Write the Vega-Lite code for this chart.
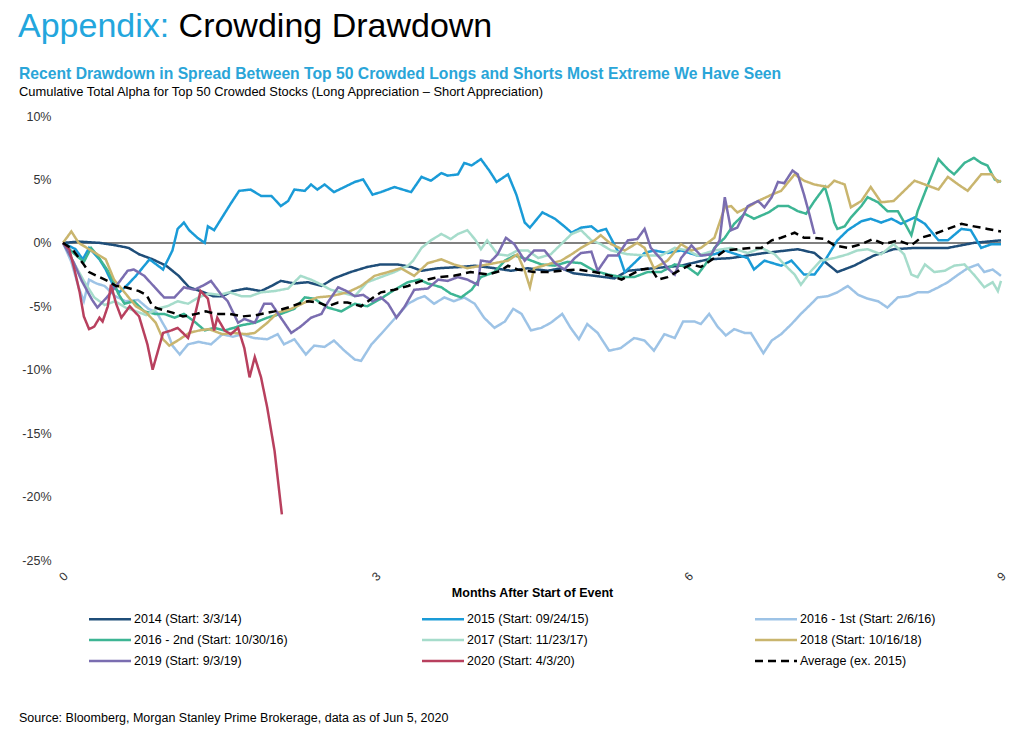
{
  "$schema": "https://vega.github.io/schema/vega-lite/v6.json",
  "description": "Crowding drawdown: cumulative alpha of top 50 crowded longs minus shorts",
  "background": "white",
  "padding": {"left": 18, "top": 10, "right": 10, "bottom": 4},
  "config": {
    "view": {"stroke": null},
    "font": "Liberation Sans",
    "concat": {"spacing": 0},
    "title": {"font": "Liberation Sans", "subtitleFont": "Liberation Sans"}
  },
  "title": {
    "text": "Appendix:",
    "subtitle": "\u200b\u00a0\u00a0\u00a0\u00a0\u00a0\u00a0\u00a0\u00a0\u00a0\u00a0\u00a0\u00a0\u00a0\u00a0\u00a0\u00a0\u00a0Crowding Drawdown",
    "anchor": "start",
    "frame": "group",
    "dx": -45,
    "color": "#23a6dd",
    "fontSize": 34,
    "fontWeight": "normal",
    "lineHeight": 34,
    "subtitleColor": "#000000",
    "subtitleFontSize": 34,
    "subtitleFontWeight": "normal",
    "subtitlePadding": -34,
    "offset": 22
  },
  "vconcat": [
    {
      "title": {
        "text": "Source: Bloomberg, Morgan Stanley Prime Brokerage, data as of Jun 5, 2020",
        "orient": "bottom",
        "anchor": "start",
        "frame": "group",
        "dx": -44,
        "fontSize": 12.5,
        "fontWeight": "normal",
        "color": "#000000",
        "offset": 113
      },
      "vconcat": [
        {
          "title": {
            "text": "Recent Drawdown in Spread Between Top 50 Crowded Longs and Shorts Most Extreme We Have Seen",
            "subtitle": "Cumulative Total Alpha for Top 50 Crowded Stocks (Long Appreciation – Short Appreciation)",
            "anchor": "start",
            "frame": "group",
            "dx": -44,
            "color": "#2aa5d8",
            "fontSize": 15.7,
            "fontWeight": "bold",
            "subtitleColor": "#000000",
            "subtitleFontSize": 12.9,
            "subtitlePadding": 3,
            "offset": 10
          },
          "width": 938,
          "height": 444,
          "data": {
            "values": [
              {"k":"2014","m":0,"v":0},{"k":"2014","m":0.15,"v":0.1},{"k":"2014","m":0.35,"v":0},{"k":"2014","m":0.51,"v":-0.2},{"k":"2014","m":0.63,"v":-0.4},{"k":"2014","m":0.73,"v":-0.9},{"k":"2014","m":0.86,"v":-1.3},{"k":"2014","m":0.99,"v":-1.8},{"k":"2014","m":1.11,"v":-2.6},{"k":"2014","m":1.21,"v":-3.5},{"k":"2014","m":1.35,"v":-3.9},{"k":"2014","m":1.44,"v":-4.2},{"k":"2014","m":1.53,"v":-4.2},{"k":"2014","m":1.63,"v":-3.8},{"k":"2014","m":1.76,"v":-3.6},{"k":"2014","m":1.9,"v":-3.8},{"k":"2014","m":2.0,"v":-3.4},{"k":"2014","m":2.09,"v":-3.0},{"k":"2014","m":2.22,"v":-3.2},{"k":"2014","m":2.35,"v":-3.1},{"k":"2014","m":2.48,"v":-3.4},{"k":"2014","m":2.6,"v":-2.8},{"k":"2014","m":2.76,"v":-2.3},{"k":"2014","m":2.92,"v":-1.9},{"k":"2014","m":3.05,"v":-1.7},{"k":"2014","m":3.21,"v":-1.7},{"k":"2014","m":3.34,"v":-1.9},{"k":"2014","m":3.44,"v":-2.2},{"k":"2014","m":3.6,"v":-2.0},{"k":"2014","m":3.82,"v":-1.9},{"k":"2014","m":3.95,"v":-1.8},{"k":"2014","m":4.14,"v":-2.0},{"k":"2014","m":4.3,"v":-2.2},{"k":"2014","m":4.46,"v":-2.0},{"k":"2014","m":4.65,"v":-2.2},{"k":"2014","m":4.78,"v":-2.0},{"k":"2014","m":4.9,"v":-2.4},{"k":"2014","m":5.1,"v":-2.6},{"k":"2014","m":5.29,"v":-2.8},{"k":"2014","m":5.42,"v":-2.2},{"k":"2014","m":5.67,"v":-2.0},{"k":"2014","m":5.93,"v":-1.8},{"k":"2014","m":6.19,"v":-1.3},{"k":"2014","m":6.41,"v":-1.2},{"k":"2014","m":6.73,"v":-0.8},{"k":"2014","m":7.05,"v":-0.5},{"k":"2014","m":7.21,"v":-0.8},{"k":"2014","m":7.34,"v":-1.7},{"k":"2014","m":7.43,"v":-2.3},{"k":"2014","m":7.59,"v":-1.8},{"k":"2014","m":7.78,"v":-1.0},{"k":"2014","m":7.97,"v":-0.5},{"k":"2014","m":8.17,"v":-0.4},{"k":"2014","m":8.49,"v":-0.4},{"k":"2014","m":8.74,"v":0},{"k":"2014","m":9.0,"v":0.2},

              {"k":"2015","m":0,"v":0},{"k":"2015","m":0.12,"v":-0.5},{"k":"2015","m":0.19,"v":-1.3},{"k":"2015","m":0.25,"v":-0.4},{"k":"2015","m":0.35,"v":-1.3},{"k":"2015","m":0.41,"v":-2.1},{"k":"2015","m":0.49,"v":-3.5},{"k":"2015","m":0.54,"v":-3.9},{"k":"2015","m":0.62,"v":-3.3},{"k":"2015","m":0.7,"v":-2.6},{"k":"2015","m":0.83,"v":-1.3},{"k":"2015","m":0.96,"v":-2.1},{"k":"2015","m":1.05,"v":-0.6},{"k":"2015","m":1.1,"v":1.1},{"k":"2015","m":1.16,"v":1.6},{"k":"2015","m":1.21,"v":1.0},{"k":"2015","m":1.29,"v":0.4},{"k":"2015","m":1.36,"v":0},{"k":"2015","m":1.39,"v":1.3},{"k":"2015","m":1.45,"v":1.0},{"k":"2015","m":1.61,"v":3.1},{"k":"2015","m":1.69,"v":4.1},{"k":"2015","m":1.8,"v":4.2},{"k":"2015","m":1.9,"v":3.7},{"k":"2015","m":2.0,"v":3.7},{"k":"2015","m":2.09,"v":2.9},{"k":"2015","m":2.16,"v":3.3},{"k":"2015","m":2.22,"v":4.2},{"k":"2015","m":2.32,"v":4.1},{"k":"2015","m":2.38,"v":4.6},{"k":"2015","m":2.44,"v":4.2},{"k":"2015","m":2.51,"v":4.6},{"k":"2015","m":2.6,"v":4.0},{"k":"2015","m":2.7,"v":4.4},{"k":"2015","m":2.8,"v":4.8},{"k":"2015","m":2.88,"v":5.0},{"k":"2015","m":2.97,"v":3.8},{"k":"2015","m":3.05,"v":4.0},{"k":"2015","m":3.18,"v":4.4},{"k":"2015","m":3.34,"v":4.0},{"k":"2015","m":3.44,"v":5.2},{"k":"2015","m":3.53,"v":4.9},{"k":"2015","m":3.63,"v":5.5},{"k":"2015","m":3.69,"v":5.3},{"k":"2015","m":3.79,"v":5.4},{"k":"2015","m":3.85,"v":6.3},{"k":"2015","m":3.92,"v":6.1},{"k":"2015","m":4.01,"v":6.6},{"k":"2015","m":4.09,"v":5.7},{"k":"2015","m":4.16,"v":4.8},{"k":"2015","m":4.27,"v":5.4},{"k":"2015","m":4.35,"v":3.8},{"k":"2015","m":4.43,"v":1.6},{"k":"2015","m":4.48,"v":1.2},{"k":"2015","m":4.6,"v":2.4},{"k":"2015","m":4.72,"v":1.9},{"k":"2015","m":4.81,"v":1.3},{"k":"2015","m":4.88,"v":0.8},{"k":"2015","m":4.97,"v":1.2},{"k":"2015","m":5.07,"v":1.3},{"k":"2015","m":5.13,"v":0.9},{"k":"2015","m":5.21,"v":1.1},{"k":"2015","m":5.32,"v":-0.6},{"k":"2015","m":5.39,"v":-2.3},{"k":"2015","m":5.48,"v":-1.6},{"k":"2015","m":5.58,"v":-0.8},{"k":"2015","m":5.67,"v":-0.6},{"k":"2015","m":5.8,"v":-0.8},{"k":"2015","m":5.93,"v":-0.6},{"k":"2015","m":6.09,"v":-1.0},{"k":"2015","m":6.25,"v":-0.9},{"k":"2015","m":6.35,"v":-0.6},{"k":"2015","m":6.57,"v":-1.2},{"k":"2015","m":6.63,"v":-2.1},{"k":"2015","m":6.73,"v":-1.4},{"k":"2015","m":6.89,"v":-1.8},{"k":"2015","m":6.99,"v":-1.4},{"k":"2015","m":7.11,"v":-2.5},{"k":"2015","m":7.21,"v":-2.5},{"k":"2015","m":7.31,"v":-1.4},{"k":"2015","m":7.43,"v":0.2},{"k":"2015","m":7.53,"v":1.0},{"k":"2015","m":7.66,"v":1.7},{"k":"2015","m":7.75,"v":1.9},{"k":"2015","m":7.85,"v":1.6},{"k":"2015","m":7.95,"v":1.9},{"k":"2015","m":8.04,"v":1.5},{"k":"2015","m":8.17,"v":2.0},{"k":"2015","m":8.27,"v":1.5},{"k":"2015","m":8.4,"v":0.2},{"k":"2015","m":8.49,"v":0.2},{"k":"2015","m":8.62,"v":1.1},{"k":"2015","m":8.71,"v":1.0},{"k":"2015","m":8.81,"v":-0.4},{"k":"2015","m":8.91,"v":-0.1},{"k":"2015","m":9.0,"v":-0.1},

              {"k":"2016a","m":0,"v":0},{"k":"2016a","m":0.08,"v":-1.5},{"k":"2016a","m":0.15,"v":-3.5},{"k":"2016a","m":0.2,"v":-4.6},{"k":"2016a","m":0.25,"v":-2.9},{"k":"2016a","m":0.32,"v":-3.2},{"k":"2016a","m":0.4,"v":-3.4},{"k":"2016a","m":0.5,"v":-4.2},{"k":"2016a","m":0.6,"v":-4.6},{"k":"2016a","m":0.72,"v":-4.5},{"k":"2016a","m":0.82,"v":-5.2},{"k":"2016a","m":0.9,"v":-5.5},{"k":"2016a","m":0.99,"v":-6.8},{"k":"2016a","m":1.05,"v":-8.1},{"k":"2016a","m":1.12,"v":-8.8},{"k":"2016a","m":1.2,"v":-8.0},{"k":"2016a","m":1.3,"v":-7.8},{"k":"2016a","m":1.42,"v":-8.0},{"k":"2016a","m":1.53,"v":-7.2},{"k":"2016a","m":1.63,"v":-7.4},{"k":"2016a","m":1.72,"v":-7.2},{"k":"2016a","m":1.83,"v":-7.5},{"k":"2016a","m":1.96,"v":-7.6},{"k":"2016a","m":2.06,"v":-7.2},{"k":"2016a","m":2.12,"v":-8.0},{"k":"2016a","m":2.22,"v":-7.6},{"k":"2016a","m":2.33,"v":-8.8},{"k":"2016a","m":2.41,"v":-8.1},{"k":"2016a","m":2.51,"v":-8.2},{"k":"2016a","m":2.6,"v":-7.7},{"k":"2016a","m":2.7,"v":-8.5},{"k":"2016a","m":2.8,"v":-9.2},{"k":"2016a","m":2.86,"v":-9.3},{"k":"2016a","m":2.96,"v":-8.0},{"k":"2016a","m":3.05,"v":-7.2},{"k":"2016a","m":3.18,"v":-6.0},{"k":"2016a","m":3.31,"v":-4.8},{"k":"2016a","m":3.4,"v":-4.4},{"k":"2016a","m":3.47,"v":-4.2},{"k":"2016a","m":3.56,"v":-4.8},{"k":"2016a","m":3.66,"v":-4.3},{"k":"2016a","m":3.75,"v":-4.6},{"k":"2016a","m":3.85,"v":-4.3},{"k":"2016a","m":3.95,"v":-4.8},{"k":"2016a","m":4.04,"v":-5.9},{"k":"2016a","m":4.14,"v":-6.7},{"k":"2016a","m":4.24,"v":-6.2},{"k":"2016a","m":4.32,"v":-5.2},{"k":"2016a","m":4.4,"v":-5.6},{"k":"2016a","m":4.49,"v":-6.9},{"k":"2016a","m":4.59,"v":-6.7},{"k":"2016a","m":4.68,"v":-6.3},{"k":"2016a","m":4.79,"v":-5.6},{"k":"2016a","m":4.87,"v":-6.7},{"k":"2016a","m":4.95,"v":-7.6},{"k":"2016a","m":5.03,"v":-6.4},{"k":"2016a","m":5.13,"v":-7.1},{"k":"2016a","m":5.24,"v":-8.5},{"k":"2016a","m":5.35,"v":-8.3},{"k":"2016a","m":5.48,"v":-7.5},{"k":"2016a","m":5.58,"v":-7.7},{"k":"2016a","m":5.67,"v":-8.5},{"k":"2016a","m":5.77,"v":-7.2},{"k":"2016a","m":5.87,"v":-7.5},{"k":"2016a","m":5.95,"v":-6.2},{"k":"2016a","m":6.06,"v":-6.2},{"k":"2016a","m":6.12,"v":-6.4},{"k":"2016a","m":6.2,"v":-5.6},{"k":"2016a","m":6.28,"v":-6.6},{"k":"2016a","m":6.36,"v":-7.3},{"k":"2016a","m":6.44,"v":-6.8},{"k":"2016a","m":6.54,"v":-7.1},{"k":"2016a","m":6.6,"v":-7.1},{"k":"2016a","m":6.72,"v":-8.7},{"k":"2016a","m":6.8,"v":-7.7},{"k":"2016a","m":6.89,"v":-7.2},{"k":"2016a","m":6.99,"v":-6.4},{"k":"2016a","m":7.08,"v":-5.6},{"k":"2016a","m":7.18,"v":-4.8},{"k":"2016a","m":7.24,"v":-4.3},{"k":"2016a","m":7.34,"v":-4.2},{"k":"2016a","m":7.43,"v":-3.9},{"k":"2016a","m":7.53,"v":-3.4},{"k":"2016a","m":7.63,"v":-4.1},{"k":"2016a","m":7.72,"v":-4.4},{"k":"2016a","m":7.82,"v":-4.6},{"k":"2016a","m":7.91,"v":-5.1},{"k":"2016a","m":8.01,"v":-4.3},{"k":"2016a","m":8.11,"v":-4.2},{"k":"2016a","m":8.2,"v":-3.9},{"k":"2016a","m":8.3,"v":-3.9},{"k":"2016a","m":8.4,"v":-3.5},{"k":"2016a","m":8.49,"v":-3.1},{"k":"2016a","m":8.59,"v":-2.5},{"k":"2016a","m":8.68,"v":-2.0},{"k":"2016a","m":8.78,"v":-1.7},{"k":"2016a","m":8.84,"v":-2.3},{"k":"2016a","m":8.92,"v":-2.1},{"k":"2016a","m":9.0,"v":-2.6},

              {"k":"2016b","m":0,"v":0},{"k":"2016b","m":0.1,"v":-0.8},{"k":"2016b","m":0.2,"v":-1.5},{"k":"2016b","m":0.27,"v":-0.4},{"k":"2016b","m":0.33,"v":-1.0},{"k":"2016b","m":0.43,"v":-2.2},{"k":"2016b","m":0.48,"v":-3.0},{"k":"2016b","m":0.53,"v":-4.0},{"k":"2016b","m":0.59,"v":-4.8},{"k":"2016b","m":0.68,"v":-4.6},{"k":"2016b","m":0.78,"v":-5.4},{"k":"2016b","m":0.88,"v":-5.6},{"k":"2016b","m":0.97,"v":-5.6},{"k":"2016b","m":1.07,"v":-5.9},{"k":"2016b","m":1.16,"v":-5.6},{"k":"2016b","m":1.26,"v":-6.2},{"k":"2016b","m":1.36,"v":-6.9},{"k":"2016b","m":1.45,"v":-6.7},{"k":"2016b","m":1.55,"v":-6.9},{"k":"2016b","m":1.64,"v":-6.7},{"k":"2016b","m":1.71,"v":-6.5},{"k":"2016b","m":1.84,"v":-6.3},{"k":"2016b","m":1.96,"v":-5.9},{"k":"2016b","m":2.09,"v":-5.6},{"k":"2016b","m":2.22,"v":-5.2},{"k":"2016b","m":2.32,"v":-4.3},{"k":"2016b","m":2.41,"v":-4.4},{"k":"2016b","m":2.54,"v":-5.1},{"k":"2016b","m":2.67,"v":-5.4},{"k":"2016b","m":2.8,"v":-4.8},{"k":"2016b","m":2.92,"v":-5.0},{"k":"2016b","m":3.05,"v":-4.4},{"k":"2016b","m":3.18,"v":-3.7},{"k":"2016b","m":3.31,"v":-3.1},{"k":"2016b","m":3.42,"v":-2.9},{"k":"2016b","m":3.5,"v":-3.2},{"k":"2016b","m":3.63,"v":-3.5},{"k":"2016b","m":3.72,"v":-4.0},{"k":"2016b","m":3.82,"v":-4.3},{"k":"2016b","m":3.92,"v":-3.7},{"k":"2016b","m":4.01,"v":-2.7},{"k":"2016b","m":4.14,"v":-2.3},{"k":"2016b","m":4.24,"v":-1.4},{"k":"2016b","m":4.33,"v":-1.0},{"k":"2016b","m":4.46,"v":-1.3},{"k":"2016b","m":4.59,"v":-1.7},{"k":"2016b","m":4.72,"v":-1.8},{"k":"2016b","m":4.84,"v":-1.5},{"k":"2016b","m":4.97,"v":-1.6},{"k":"2016b","m":5.1,"v":-2.2},{"k":"2016b","m":5.23,"v":-2.5},{"k":"2016b","m":5.36,"v":-2.7},{"k":"2016b","m":5.48,"v":-2.7},{"k":"2016b","m":5.61,"v":-2.3},{"k":"2016b","m":5.74,"v":-2.3},{"k":"2016b","m":5.87,"v":-1.7},{"k":"2016b","m":5.99,"v":-1.9},{"k":"2016b","m":6.09,"v":-2.5},{"k":"2016b","m":6.19,"v":-1.4},{"k":"2016b","m":6.25,"v":-0.4},{"k":"2016b","m":6.35,"v":0.4},{"k":"2016b","m":6.44,"v":1.5},{"k":"2016b","m":6.54,"v":2.3},{"k":"2016b","m":6.63,"v":1.9},{"k":"2016b","m":6.77,"v":2.4},{"k":"2016b","m":6.86,"v":2.9},{"k":"2016b","m":6.96,"v":2.9},{"k":"2016b","m":7.05,"v":2.5},{"k":"2016b","m":7.13,"v":2.3},{"k":"2016b","m":7.21,"v":3.3},{"k":"2016b","m":7.31,"v":4.4},{"k":"2016b","m":7.36,"v":3.0},{"k":"2016b","m":7.4,"v":1.6},{"k":"2016b","m":7.43,"v":1.1},{"k":"2016b","m":7.5,"v":1.3},{"k":"2016b","m":7.56,"v":2.0},{"k":"2016b","m":7.66,"v":2.9},{"k":"2016b","m":7.72,"v":3.6},{"k":"2016b","m":7.82,"v":3.2},{"k":"2016b","m":7.91,"v":2.5},{"k":"2016b","m":8.01,"v":2.5},{"k":"2016b","m":8.08,"v":1.5},{"k":"2016b","m":8.14,"v":0.6},{"k":"2016b","m":8.2,"v":2.5},{"k":"2016b","m":8.3,"v":4.6},{"k":"2016b","m":8.4,"v":6.6},{"k":"2016b","m":8.49,"v":5.8},{"k":"2016b","m":8.55,"v":5.4},{"k":"2016b","m":8.65,"v":6.3},{"k":"2016b","m":8.74,"v":6.7},{"k":"2016b","m":8.81,"v":6.3},{"k":"2016b","m":8.87,"v":6.1},{"k":"2016b","m":8.94,"v":5.0},{"k":"2016b","m":9.0,"v":4.8},

              {"k":"2017","m":0,"v":0},{"k":"2017","m":0.1,"v":-1.5},{"k":"2017","m":0.2,"v":-3.0},{"k":"2017","m":0.3,"v":-4.3},{"k":"2017","m":0.4,"v":-4.9},{"k":"2017","m":0.5,"v":-4.6},{"k":"2017","m":0.6,"v":-5.1},{"k":"2017","m":0.7,"v":-5.4},{"k":"2017","m":0.8,"v":-5.7},{"k":"2017","m":0.9,"v":-5.2},{"k":"2017","m":1.0,"v":-5.0},{"k":"2017","m":1.1,"v":-4.6},{"k":"2017","m":1.2,"v":-4.8},{"k":"2017","m":1.3,"v":-4.3},{"k":"2017","m":1.4,"v":-4.0},{"k":"2017","m":1.5,"v":-4.1},{"k":"2017","m":1.6,"v":-3.9},{"k":"2017","m":1.71,"v":-4.2},{"k":"2017","m":1.8,"v":-4.2},{"k":"2017","m":1.9,"v":-3.9},{"k":"2017","m":2.03,"v":-3.8},{"k":"2017","m":2.16,"v":-3.6},{"k":"2017","m":2.28,"v":-2.6},{"k":"2017","m":2.38,"v":-2.9},{"k":"2017","m":2.48,"v":-3.3},{"k":"2017","m":2.57,"v":-3.7},{"k":"2017","m":2.67,"v":-3.9},{"k":"2017","m":2.8,"v":-4.2},{"k":"2017","m":2.92,"v":-3.1},{"k":"2017","m":3.05,"v":-2.7},{"k":"2017","m":3.18,"v":-2.3},{"k":"2017","m":3.31,"v":-1.8},{"k":"2017","m":3.36,"v":-1.4},{"k":"2017","m":3.44,"v":-0.4},{"k":"2017","m":3.53,"v":0.2},{"k":"2017","m":3.63,"v":0.7},{"k":"2017","m":3.72,"v":0.3},{"k":"2017","m":3.79,"v":0.7},{"k":"2017","m":3.88,"v":1.0},{"k":"2017","m":3.96,"v":0.2},{"k":"2017","m":4.01,"v":-0.5},{"k":"2017","m":4.07,"v":0.2},{"k":"2017","m":4.17,"v":-0.9},{"k":"2017","m":4.27,"v":-1.0},{"k":"2017","m":4.36,"v":-0.6},{"k":"2017","m":4.46,"v":-0.6},{"k":"2017","m":4.56,"v":-1.2},{"k":"2017","m":4.68,"v":-0.9},{"k":"2017","m":4.78,"v":-0.1},{"k":"2017","m":4.88,"v":0.7},{"k":"2017","m":4.97,"v":1.0},{"k":"2017","m":5.07,"v":0.2},{"k":"2017","m":5.16,"v":-0.1},{"k":"2017","m":5.26,"v":-0.6},{"k":"2017","m":5.42,"v":-0.9},{"k":"2017","m":5.61,"v":-1.0},{"k":"2017","m":5.74,"v":-1.0},{"k":"2017","m":5.87,"v":-0.4},{"k":"2017","m":5.99,"v":-0.6},{"k":"2017","m":6.09,"v":-1.0},{"k":"2017","m":6.25,"v":-0.6},{"k":"2017","m":6.41,"v":-0.4},{"k":"2017","m":6.57,"v":-0.8},{"k":"2017","m":6.7,"v":-0.4},{"k":"2017","m":6.83,"v":-0.9},{"k":"2017","m":6.92,"v":-1.7},{"k":"2017","m":7.02,"v":-2.5},{"k":"2017","m":7.08,"v":-3.3},{"k":"2017","m":7.18,"v":-2.2},{"k":"2017","m":7.27,"v":-1.4},{"k":"2017","m":7.4,"v":-1.2},{"k":"2017","m":7.53,"v":-0.9},{"k":"2017","m":7.62,"v":-0.6},{"k":"2017","m":7.72,"v":-0.5},{"k":"2017","m":7.85,"v":-0.9},{"k":"2017","m":7.97,"v":-0.1},{"k":"2017","m":8.07,"v":-0.9},{"k":"2017","m":8.14,"v":-2.5},{"k":"2017","m":8.2,"v":-2.7},{"k":"2017","m":8.27,"v":-1.7},{"k":"2017","m":8.36,"v":-2.3},{"k":"2017","m":8.46,"v":-2.2},{"k":"2017","m":8.55,"v":-1.8},{"k":"2017","m":8.65,"v":-1.7},{"k":"2017","m":8.75,"v":-2.6},{"k":"2017","m":8.84,"v":-3.5},{"k":"2017","m":8.92,"v":-3.1},{"k":"2017","m":8.97,"v":-3.8},{"k":"2017","m":9.0,"v":-3.0},

              {"k":"2018","m":0,"v":0},{"k":"2018","m":0.08,"v":0.9},{"k":"2018","m":0.15,"v":0},{"k":"2018","m":0.25,"v":-0.5},{"k":"2018","m":0.35,"v":-1.0},{"k":"2018","m":0.41,"v":-1.3},{"k":"2018","m":0.49,"v":-2.9},{"k":"2018","m":0.57,"v":-3.7},{"k":"2018","m":0.7,"v":-5.0},{"k":"2018","m":0.8,"v":-5.5},{"k":"2018","m":0.89,"v":-6.3},{"k":"2018","m":0.96,"v":-7.6},{"k":"2018","m":1.02,"v":-8.1},{"k":"2018","m":1.12,"v":-7.6},{"k":"2018","m":1.21,"v":-7.1},{"k":"2018","m":1.31,"v":-6.9},{"k":"2018","m":1.4,"v":-6.8},{"k":"2018","m":1.53,"v":-7.2},{"k":"2018","m":1.63,"v":-7.1},{"k":"2018","m":1.76,"v":-7.2},{"k":"2018","m":1.84,"v":-7.1},{"k":"2018","m":1.96,"v":-6.3},{"k":"2018","m":2.06,"v":-5.5},{"k":"2018","m":2.19,"v":-5.2},{"k":"2018","m":2.32,"v":-4.7},{"k":"2018","m":2.44,"v":-4.3},{"k":"2018","m":2.57,"v":-4.2},{"k":"2018","m":2.73,"v":-3.9},{"k":"2018","m":2.86,"v":-3.4},{"k":"2018","m":2.99,"v":-2.6},{"k":"2018","m":3.12,"v":-2.3},{"k":"2018","m":3.24,"v":-2.0},{"k":"2018","m":3.37,"v":-2.6},{"k":"2018","m":3.5,"v":-1.6},{"k":"2018","m":3.63,"v":-1.3},{"k":"2018","m":3.75,"v":-1.7},{"k":"2018","m":3.88,"v":-2.0},{"k":"2018","m":4.01,"v":-1.8},{"k":"2018","m":4.14,"v":-1.6},{"k":"2018","m":4.27,"v":-1.4},{"k":"2018","m":4.36,"v":-0.9},{"k":"2018","m":4.43,"v":-2.2},{"k":"2018","m":4.48,"v":-3.5},{"k":"2018","m":4.52,"v":-2.0},{"k":"2018","m":4.65,"v":-1.7},{"k":"2018","m":4.78,"v":-1.4},{"k":"2018","m":4.88,"v":-0.9},{"k":"2018","m":4.97,"v":-0.4},{"k":"2018","m":5.1,"v":0.2},{"k":"2018","m":5.16,"v":0.6},{"k":"2018","m":5.26,"v":-0.1},{"k":"2018","m":5.39,"v":-0.6},{"k":"2018","m":5.51,"v":0},{"k":"2018","m":5.58,"v":-0.4},{"k":"2018","m":5.67,"v":-2.0},{"k":"2018","m":5.8,"v":-1.4},{"k":"2018","m":5.93,"v":-0.1},{"k":"2018","m":6.03,"v":-0.6},{"k":"2018","m":6.12,"v":-0.4},{"k":"2018","m":6.25,"v":0.4},{"k":"2018","m":6.35,"v":2.8},{"k":"2018","m":6.41,"v":2.9},{"k":"2018","m":6.47,"v":2.4},{"k":"2018","m":6.57,"v":2.8},{"k":"2018","m":6.67,"v":3.3},{"k":"2018","m":6.8,"v":3.8},{"k":"2018","m":6.89,"v":4.1},{"k":"2018","m":7.02,"v":5.4},{"k":"2018","m":7.11,"v":4.9},{"k":"2018","m":7.21,"v":4.6},{"k":"2018","m":7.34,"v":4.4},{"k":"2018","m":7.4,"v":4.9},{"k":"2018","m":7.5,"v":4.6},{"k":"2018","m":7.56,"v":2.8},{"k":"2018","m":7.66,"v":3.3},{"k":"2018","m":7.75,"v":4.4},{"k":"2018","m":7.85,"v":3.2},{"k":"2018","m":7.97,"v":3.3},{"k":"2018","m":8.07,"v":4.1},{"k":"2018","m":8.17,"v":4.9},{"k":"2018","m":8.27,"v":4.6},{"k":"2018","m":8.4,"v":4.2},{"k":"2018","m":8.49,"v":5.2},{"k":"2018","m":8.59,"v":4.6},{"k":"2018","m":8.68,"v":4.1},{"k":"2018","m":8.81,"v":5.4},{"k":"2018","m":8.91,"v":5.4},{"k":"2018","m":8.97,"v":4.8},{"k":"2018","m":9.0,"v":4.9},

              {"k":"2019","m":0,"v":0},{"k":"2019","m":0.1,"v":-1.5},{"k":"2019","m":0.18,"v":-3.0},{"k":"2019","m":0.28,"v":-4.5},{"k":"2019","m":0.33,"v":-5.1},{"k":"2019","m":0.42,"v":-4.3},{"k":"2019","m":0.52,"v":-3.3},{"k":"2019","m":0.62,"v":-2.2},{"k":"2019","m":0.68,"v":-2.1},{"k":"2019","m":0.78,"v":-2.6},{"k":"2019","m":0.88,"v":-3.5},{"k":"2019","m":0.97,"v":-4.3},{"k":"2019","m":1.07,"v":-4.3},{"k":"2019","m":1.16,"v":-3.5},{"k":"2019","m":1.26,"v":-3.7},{"k":"2019","m":1.36,"v":-3.3},{"k":"2019","m":1.42,"v":-3.0},{"k":"2019","m":1.52,"v":-4.1},{"k":"2019","m":1.58,"v":-4.6},{"k":"2019","m":1.68,"v":-6.3},{"k":"2019","m":1.74,"v":-6.0},{"k":"2019","m":1.84,"v":-6.3},{"k":"2019","m":1.93,"v":-4.8},{"k":"2019","m":2.0,"v":-4.8},{"k":"2019","m":2.09,"v":-5.9},{"k":"2019","m":2.19,"v":-7.1},{"k":"2019","m":2.28,"v":-6.6},{"k":"2019","m":2.38,"v":-5.9},{"k":"2019","m":2.48,"v":-5.6},{"k":"2019","m":2.54,"v":-4.7},{"k":"2019","m":2.64,"v":-3.5},{"k":"2019","m":2.72,"v":-3.8},{"k":"2019","m":2.8,"v":-4.2},{"k":"2019","m":2.88,"v":-4.1},{"k":"2019","m":2.97,"v":-4.6},{"k":"2019","m":3.05,"v":-4.3},{"k":"2019","m":3.12,"v":-4.8},{"k":"2019","m":3.2,"v":-5.9},{"k":"2019","m":3.28,"v":-5.0},{"k":"2019","m":3.37,"v":-3.7},{"k":"2019","m":3.5,"v":-3.6},{"k":"2019","m":3.6,"v":-2.9},{"k":"2019","m":3.69,"v":-3.0},{"k":"2019","m":3.79,"v":-2.7},{"k":"2019","m":3.88,"v":-2.9},{"k":"2019","m":3.98,"v":-3.3},{"k":"2019","m":4.01,"v":-1.4},{"k":"2019","m":4.1,"v":-1.5},{"k":"2019","m":4.17,"v":-0.9},{"k":"2019","m":4.25,"v":0.4},{"k":"2019","m":4.33,"v":-0.1},{"k":"2019","m":4.43,"v":-1.4},{"k":"2019","m":4.52,"v":-0.6},{"k":"2019","m":4.62,"v":-0.6},{"k":"2019","m":4.72,"v":-1.6},{"k":"2019","m":4.81,"v":-2.1},{"k":"2019","m":4.91,"v":-1.2},{"k":"2019","m":4.97,"v":-0.8},{"k":"2019","m":5.07,"v":-0.7},{"k":"2019","m":5.13,"v":-2.2},{"k":"2019","m":5.23,"v":-1.0},{"k":"2019","m":5.32,"v":-1.0},{"k":"2019","m":5.42,"v":0.2},{"k":"2019","m":5.51,"v":0.3},{"k":"2019","m":5.58,"v":1.1},{"k":"2019","m":5.64,"v":-0.4},{"k":"2019","m":5.74,"v":-1.3},{"k":"2019","m":5.8,"v":-2.0},{"k":"2019","m":5.87,"v":-2.5},{"k":"2019","m":5.93,"v":-1.2},{"k":"2019","m":6.03,"v":-0.2},{"k":"2019","m":6.12,"v":-1.0},{"k":"2019","m":6.22,"v":-0.9},{"k":"2019","m":6.3,"v":0.2},{"k":"2019","m":6.35,"v":3.6},{"k":"2019","m":6.41,"v":1.0},{"k":"2019","m":6.47,"v":1.2},{"k":"2019","m":6.57,"v":2.9},{"k":"2019","m":6.67,"v":3.3},{"k":"2019","m":6.73,"v":2.8},{"k":"2019","m":6.8,"v":3.6},{"k":"2019","m":6.86,"v":4.8},{"k":"2019","m":6.92,"v":4.7},{"k":"2019","m":7.0,"v":5.7},{"k":"2019","m":7.05,"v":5.4},{"k":"2019","m":7.11,"v":3.8},{"k":"2019","m":7.16,"v":2.3},{"k":"2019","m":7.21,"v":0.7},

              {"k":"2020","m":0,"v":0},{"k":"2020","m":0.06,"v":-0.5},{"k":"2020","m":0.11,"v":-2.1},{"k":"2020","m":0.16,"v":-3.9},{"k":"2020","m":0.2,"v":-5.8},{"k":"2020","m":0.25,"v":-6.8},{"k":"2020","m":0.3,"v":-6.6},{"k":"2020","m":0.35,"v":-5.9},{"k":"2020","m":0.38,"v":-6.2},{"k":"2020","m":0.43,"v":-5.0},{"k":"2020","m":0.46,"v":-3.3},{"k":"2020","m":0.51,"v":-4.8},{"k":"2020","m":0.56,"v":-5.9},{"k":"2020","m":0.64,"v":-5.0},{"k":"2020","m":0.73,"v":-5.8},{"k":"2020","m":0.81,"v":-8.0},{"k":"2020","m":0.86,"v":-10.0},{"k":"2020","m":0.96,"v":-7.1},{"k":"2020","m":1.04,"v":-6.9},{"k":"2020","m":1.1,"v":-6.7},{"k":"2020","m":1.2,"v":-7.5},{"k":"2020","m":1.26,"v":-5.9},{"k":"2020","m":1.32,"v":-3.8},{"k":"2020","m":1.39,"v":-4.4},{"k":"2020","m":1.45,"v":-6.9},{"k":"2020","m":1.48,"v":-5.9},{"k":"2020","m":1.55,"v":-6.9},{"k":"2020","m":1.61,"v":-7.2},{"k":"2020","m":1.68,"v":-6.7},{"k":"2020","m":1.74,"v":-8.3},{"k":"2020","m":1.79,"v":-10.6},{"k":"2020","m":1.84,"v":-9.0},{"k":"2020","m":1.9,"v":-10.6},{"k":"2020","m":1.96,"v":-13.0},{"k":"2020","m":2.03,"v":-16.4},{"k":"2020","m":2.1,"v":-21.4},

              {"k":"avg","m":0,"v":0},{"k":"avg","m":0.09,"v":-0.5},{"k":"avg","m":0.19,"v":-1.6},{"k":"avg","m":0.25,"v":-2.3},{"k":"avg","m":0.35,"v":-2.7},{"k":"avg","m":0.43,"v":-3.0},{"k":"avg","m":0.51,"v":-3.4},{"k":"avg","m":0.6,"v":-3.5},{"k":"avg","m":0.73,"v":-3.8},{"k":"avg","m":0.8,"v":-4.1},{"k":"avg","m":0.86,"v":-5.0},{"k":"avg","m":0.92,"v":-5.2},{"k":"avg","m":1.05,"v":-5.5},{"k":"avg","m":1.15,"v":-5.8},{"k":"avg","m":1.28,"v":-5.6},{"k":"avg","m":1.37,"v":-5.4},{"k":"avg","m":1.47,"v":-5.6},{"k":"avg","m":1.6,"v":-5.6},{"k":"avg","m":1.72,"v":-5.8},{"k":"avg","m":1.85,"v":-5.7},{"k":"avg","m":2.03,"v":-5.4},{"k":"avg","m":2.16,"v":-5.1},{"k":"avg","m":2.26,"v":-4.8},{"k":"avg","m":2.35,"v":-4.6},{"k":"avg","m":2.45,"v":-4.7},{"k":"avg","m":2.54,"v":-5.0},{"k":"avg","m":2.64,"v":-4.7},{"k":"avg","m":2.73,"v":-4.7},{"k":"avg","m":2.86,"v":-5.0},{"k":"avg","m":2.96,"v":-4.4},{"k":"avg","m":3.05,"v":-3.9},{"k":"avg","m":3.18,"v":-3.7},{"k":"avg","m":3.31,"v":-3.4},{"k":"avg","m":3.44,"v":-3.0},{"k":"avg","m":3.6,"v":-2.7},{"k":"avg","m":3.75,"v":-2.6},{"k":"avg","m":3.91,"v":-2.3},{"k":"avg","m":4.08,"v":-2.5},{"k":"avg","m":4.2,"v":-2.2},{"k":"avg","m":4.27,"v":-1.8},{"k":"avg","m":4.36,"v":-2.1},{"k":"avg","m":4.52,"v":-2.3},{"k":"avg","m":4.65,"v":-2.3},{"k":"avg","m":4.78,"v":-2.2},{"k":"avg","m":4.94,"v":-2.1},{"k":"avg","m":5.1,"v":-2.3},{"k":"avg","m":5.26,"v":-2.6},{"k":"avg","m":5.36,"v":-2.9},{"k":"avg","m":5.45,"v":-2.5},{"k":"avg","m":5.55,"v":-2.1},{"k":"avg","m":5.64,"v":-2.0},{"k":"avg","m":5.71,"v":-2.9},{"k":"avg","m":5.8,"v":-2.7},{"k":"avg","m":5.93,"v":-2.1},{"k":"avg","m":6.03,"v":-1.7},{"k":"avg","m":6.12,"v":-1.9},{"k":"avg","m":6.25,"v":-1.2},{"k":"avg","m":6.35,"v":-0.6},{"k":"avg","m":6.48,"v":-0.5},{"k":"avg","m":6.6,"v":-0.4},{"k":"avg","m":6.7,"v":-0.4},{"k":"avg","m":6.8,"v":0.2},{"k":"avg","m":6.89,"v":0.4},{"k":"avg","m":7.02,"v":0.8},{"k":"avg","m":7.11,"v":0.4},{"k":"avg","m":7.21,"v":0.4},{"k":"avg","m":7.31,"v":0.3},{"k":"avg","m":7.4,"v":-0.2},{"k":"avg","m":7.53,"v":-0.4},{"k":"avg","m":7.66,"v":-0.1},{"k":"avg","m":7.77,"v":0.3},{"k":"avg","m":7.88,"v":-0.1},{"k":"avg","m":8.01,"v":0.2},{"k":"avg","m":8.14,"v":-0.2},{"k":"avg","m":8.23,"v":0.4},{"k":"avg","m":8.36,"v":0.7},{"k":"avg","m":8.49,"v":1.1},{"k":"avg","m":8.62,"v":1.5},{"k":"avg","m":8.74,"v":1.3},{"k":"avg","m":8.87,"v":1.1},{"k":"avg","m":9.0,"v":0.9}
            ]
          },
          "layer": [
            {
              "mark": {"type": "rule", "color": "#808080", "strokeWidth": 1},
              "encoding": {"y": {"datum": 0, "type": "quantitative"}}
            },
            {
              "mark": {"type": "line", "interpolate": "linear"},
              "encoding": {
                "x": {
                  "field": "m",
                  "type": "quantitative",
                  "scale": {"domain": [0, 9], "nice": false},
                  "axis": {
                    "title": "Months After Start of Event",
                    "titleFontSize": 12.5,
                    "titleFontWeight": "bold",
                    "titleColor": "#000000",
                    "titlePadding": 4,
                    "values": [0, 3, 6, 9],
                    "labelAngle": -45,
                    "labelAlign": "center",
                    "labelBaseline": "middle",
                    "labelFontSize": 12,
                    "labelColor": "#333333",
                    "labelPadding": 16,
                    "ticks": false,
                    "domain": false,
                    "grid": false
                  }
                },
                "y": {
                  "field": "v",
                  "type": "quantitative",
                  "scale": {"domain": [-25, 10], "nice": false, "zero": false},
                  "axis": {
                    "title": null,
                    "values": [-25, -20, -15, -10, -5, 0, 5, 10],
                    "labelExpr": "datum.value + '%'",
                    "labelFontSize": 12.5,
                    "labelColor": "#333333",
                    "labelPadding": 12,
                    "ticks": false,
                    "domain": false,
                    "grid": false
                  }
                },
                "detail": {"field": "k"},
                "color": {
                  "field": "k",
                  "type": "nominal",
                  "scale": {
                    "domain": ["2014", "2015", "2016a", "2016b", "2017", "2018", "2019", "2020", "avg"],
                    "range": ["#1f4e79", "#1a9bd7", "#9dc3e6", "#3db594", "#a6dccb", "#c9b56e", "#7a6db0", "#b8405e", "#000000"]
                  },
                  "legend": {
                    "title": null,
                    "orient": "none",
                    "direction": "horizontal",
                    "legendX": 35,
                    "legendY": 491,
                    "columns": 3,
                    "gridAlign": "all",
                    "columnPadding": 129,
                    "rowPadding": 2,
                    "symbolType": "M-2,0H2",
                    "symbolSize": 441,
                    "labelFontSize": 12.5,
                    "labelColor": "#000000",
                    "labelOffset": 12,
                    "labelLimit": 300,
                    "labelExpr": "{'2014': '2014 (Start: 3/3/14)', '2015': '2015 (Start: 09/24/15)', '2016a': '2016 - 1st (Start: 2/6/16)', '2016b': '2016 - 2nd (Start: 10/30/16)', '2017': '2017 (Start: 11/23/17)', '2018': '2018 (Start: 10/16/18)', '2019': '2019 (Start: 9/3/19)', '2020': '2020 (Start: 4/3/20)', 'avg': 'Average (ex. 2015)'}[datum.label]"
                  }
                },
                "strokeDash": {
                  "field": "k",
                  "type": "nominal",
                  "scale": {
                    "domain": ["2014", "2015", "2016a", "2016b", "2017", "2018", "2019", "2020", "avg"],
                    "range": [[1, 0], [1, 0], [1, 0], [1, 0], [1, 0], [1, 0], [1, 0], [1, 0], [8, 5]]
                  },
                  "legend": {
                    "title": null,
                    "orient": "none",
                    "direction": "horizontal",
                    "legendX": 35,
                    "legendY": 491,
                    "columns": 3,
                    "gridAlign": "all",
                    "columnPadding": 129,
                    "rowPadding": 2,
                    "symbolType": "M-2,0H2",
                    "symbolSize": 441,
                    "labelFontSize": 12.5,
                    "labelColor": "#000000",
                    "labelOffset": 12,
                    "labelLimit": 300,
                    "labelExpr": "{'2014': '2014 (Start: 3/3/14)', '2015': '2015 (Start: 09/24/15)', '2016a': '2016 - 1st (Start: 2/6/16)', '2016b': '2016 - 2nd (Start: 10/30/16)', '2017': '2017 (Start: 11/23/17)', '2018': '2018 (Start: 10/16/18)', '2019': '2019 (Start: 9/3/19)', '2020': '2020 (Start: 4/3/20)', 'avg': 'Average (ex. 2015)'}[datum.label]"
                  }
                },
                "strokeWidth": {
                  "field": "k",
                  "type": "nominal",
                  "scale": {
                    "domain": ["2014", "2015", "2016a", "2016b", "2017", "2018", "2019", "2020", "avg"],
                    "range": [2.5, 2.5, 2.5, 2.5, 2.5, 2.5, 2.5, 3.5, 3.5]
                  },
                  "legend": {
                    "title": null,
                    "orient": "none",
                    "direction": "horizontal",
                    "legendX": 35,
                    "legendY": 491,
                    "columns": 3,
                    "gridAlign": "all",
                    "columnPadding": 129,
                    "rowPadding": 2,
                    "symbolType": "M-2,0H2",
                    "symbolSize": 441,
                    "labelFontSize": 12.5,
                    "labelColor": "#000000",
                    "labelOffset": 12,
                    "labelLimit": 300,
                    "labelExpr": "{'2014': '2014 (Start: 3/3/14)', '2015': '2015 (Start: 09/24/15)', '2016a': '2016 - 1st (Start: 2/6/16)', '2016b': '2016 - 2nd (Start: 10/30/16)', '2017': '2017 (Start: 11/23/17)', '2018': '2018 (Start: 10/16/18)', '2019': '2019 (Start: 9/3/19)', '2020': '2020 (Start: 4/3/20)', 'avg': 'Average (ex. 2015)'}[datum.label]"
                  }
                }
              }
            }
          ]
        }
      ]
    }
  ]
}
